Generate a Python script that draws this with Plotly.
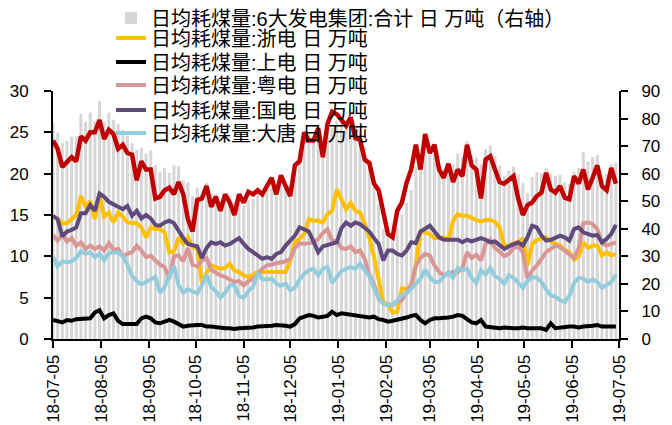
import pandas as pd
import plotly.graph_objects as go

# sampling: every 3 days from 2018-07-05
dates = pd.date_range("2018-07-05", periods=122, freq="3D")

huaneng = [24.0, 23.0, 20.8, 21.5, 22.0, 21.5, 24.5, 24.0, 25.0, 25.0,
           26.5, 24.2, 25.3, 24.8, 23.0, 23.5, 22.5, 22.3, 19.2, 21.5,
           20.5, 20.5, 17.0, 17.2, 18.0, 18.3, 17.5, 19.0, 17.5, 14.5,
           13.0, 16.8, 17.0, 18.5, 16.0, 17.2, 15.5, 17.5, 16.5, 15.0,
           17.5, 16.5, 17.8, 17.5, 18.0, 17.5, 18.5, 19.5, 17.5, 19.8,
           18.5, 17.3, 21.0, 21.5, 25.0, 24.0, 24.0, 25.5, 22.0, 26.0,
           27.5, 27.2, 26.5, 25.8, 26.8, 24.3, 24.1, 21.7, 21.3, 18.8,
           18.0, 15.0, 12.7, 12.3, 15.5, 16.5, 18.9, 20.5, 23.5, 20.5,
           24.8, 22.5, 23.5, 20.5, 19.5, 21.2, 19.0, 20.5, 19.7, 23.5,
           21.0, 20.5, 17.0, 21.7, 22.1, 20.5, 19.0, 18.8, 19.3, 19.7,
           17.0, 15.0, 16.2, 16.5, 17.3, 17.7, 20.1, 18.1, 17.7, 18.5,
           17.1, 16.9, 19.7, 18.8, 20.5, 18.1, 19.5, 21.0, 18.5, 18.0,
           20.7, 18.8]

zhedian = [14.8, 14.5, 14.0, 14.0, 14.5, 15.0, 17.3, 16.0, 16.7, 14.5,
           17.3, 14.8, 15.3, 14.1, 15.3, 14.8, 14.1, 14.1, 14.0, 13.5,
           12.3, 13.5, 13.3, 13.3, 12.9, 10.5, 10.6, 12.3, 11.5, 12.3,
           11.1, 11.0, 6.8, 8.0, 8.9, 8.7, 8.5, 8.6, 9.1, 8.3,
           8.1, 7.7, 7.5, 7.8, 8.1, 8.1, 8.1, 8.1, 8.1, 8.1,
           8.1, 9.5, 11.7, 12.1, 12.7, 14.5, 14.3, 14.3, 14.1, 15.1,
           15.5, 18.1, 17.0, 15.7, 16.5, 15.5, 15.3, 14.0, 12.2, 10.0,
           7.2, 4.5, 4.1, 3.2, 3.3, 6.1, 6.1, 6.5, 9.0, 13.0,
           12.9, 12.7, 12.2, 12.3, 12.3, 12.0, 14.3, 15.1, 14.9, 14.9,
           14.6, 14.4, 14.2, 14.4, 14.4, 14.2, 13.5, 11.3, 11.3, 11.6,
           11.7, 12.2, 8.9, 11.5, 12.0, 12.1, 12.3, 11.8, 11.5, 11.3,
           10.8, 10.5, 9.6, 10.0, 11.7, 11.0, 11.3, 11.3, 10.1, 10.5,
           10.1, 10.3]

shangdian = [2.3, 2.2, 2.0, 2.3, 2.2, 2.4, 2.4, 2.4, 2.5, 3.2,
             3.5, 2.5, 2.9, 3.1, 2.2, 1.8, 1.8, 1.7, 1.8, 2.5,
             2.7, 2.5, 2.0, 1.9, 2.1, 2.3, 2.1, 1.8, 1.5, 1.6,
             1.7, 1.7, 1.7, 1.5, 1.5, 1.4, 1.3, 1.3, 1.3, 1.2,
             1.3, 1.3, 1.3, 1.4, 1.5, 1.5, 1.6, 1.6, 1.7, 1.7,
             1.6, 1.5, 1.8, 2.5, 2.7, 2.9, 2.8, 2.6, 2.7, 2.8,
             3.3, 2.9, 3.1, 3.0, 2.9, 2.9, 2.7, 2.6, 2.6, 2.7,
             2.4, 2.3, 2.1, 2.2, 2.3, 2.5, 2.6, 2.8, 2.9, 2.3,
             1.9, 2.3, 2.5, 2.5, 2.5, 2.6, 2.7, 2.9, 2.8, 2.4,
             2.0, 1.9, 2.3, 1.5, 1.4, 1.3, 1.3, 1.4, 1.3, 1.3,
             1.3, 1.4, 1.3, 1.3, 1.4, 1.3, 1.1, 1.9, 1.3, 1.4,
             1.5, 1.5, 1.5, 1.4, 1.5, 1.5, 1.6, 1.7, 1.5, 1.5,
             1.5, 1.5]

yuedian = [12.6, 11.9, 12.6, 11.8, 12.2, 11.3, 11.7, 10.9, 11.3, 10.9,
           11.2, 10.7, 11.6, 10.8, 10.9, 10.0, 10.3, 10.5, 11.3, 10.7,
           9.9, 10.1, 9.5, 9.0, 8.7, 7.3, 10.0, 10.1, 9.4, 11.0,
           9.0, 8.8, 9.5, 9.8, 8.4, 8.0, 7.7, 7.5, 7.2, 6.9,
           7.0, 6.5, 7.0, 7.3, 7.8, 8.5, 8.9, 9.0, 9.1, 9.2,
           9.4, 9.7, 11.0, 11.6, 11.5, 11.6, 11.7, 12.1, 12.8, 13.3,
           11.9, 11.9, 11.0, 10.9, 11.2, 10.5, 10.7, 9.7, 7.8, 6.6,
           4.9, 4.3, 4.2, 4.1, 4.5, 4.7, 5.7, 6.5, 8.9, 9.8,
           10.3, 10.1, 8.9, 8.1, 7.7, 7.9, 8.1, 8.1, 8.6, 10.5,
           9.8, 10.2, 9.5, 11.5, 12.0, 11.0, 10.6, 10.0, 10.3, 11.0,
           11.2, 10.5, 7.3, 8.3, 8.9, 9.7, 10.5, 10.9, 11.3, 11.1,
           10.7, 10.3, 9.8, 11.0, 14.0, 14.1, 13.9, 13.3, 11.6, 11.3,
           11.5, 11.7]

guodian = [14.9, 14.5, 12.4, 13.0, 13.2, 13.5, 15.2, 15.2, 16.2, 15.5,
           17.6, 17.2, 16.6, 16.3, 16.0, 15.7, 16.1, 14.9, 15.5, 14.6,
           15.0, 14.6, 13.8, 13.7, 14.1, 14.3, 14.0, 13.0, 12.2, 11.5,
           11.3, 11.2, 9.8, 11.0, 11.7, 11.5, 11.7, 11.3, 11.5, 11.9,
           12.2, 11.5, 10.9, 10.5, 10.1, 9.7, 9.9, 9.7, 10.3, 10.5,
           11.3, 11.9, 12.5, 13.5, 13.3, 13.0, 11.8, 10.5, 11.2, 11.4,
           11.5, 11.7, 13.4, 14.1, 13.7, 14.1, 13.9, 13.5, 13.0, 12.2,
           11.5, 9.5, 10.7, 10.7, 10.3, 10.1, 10.7, 11.7, 11.6, 13.0,
           13.3, 13.7, 13.0, 12.3, 12.0, 12.0, 11.9, 12.0, 11.7, 12.0,
           11.8, 12.0, 12.2, 12.0, 11.7, 11.8, 11.3, 10.9, 11.2, 11.5,
           11.7, 11.3, 12.3, 13.7, 13.5, 12.5, 11.9, 12.0, 12.2, 12.5,
           12.3, 11.9, 13.3, 13.5, 12.9, 12.7, 12.5, 12.6, 11.7, 12.1,
           12.7, 13.8]

datang = [9.9, 8.8, 9.4, 9.3, 9.4, 9.8, 10.6, 10.3, 10.5, 9.9,
          10.3, 9.5, 10.4, 10.5, 10.5, 10.0, 9.0, 7.6, 7.0, 6.6,
          6.9, 7.2, 7.5, 5.6, 6.3, 7.6, 8.8, 6.5, 5.6, 6.0,
          5.8, 5.5, 6.5, 7.8, 6.3, 5.8, 5.0, 5.6, 6.5, 6.5,
          5.2, 5.0, 5.8, 6.3, 8.0, 7.2, 7.2, 7.3, 6.7, 6.4,
          6.7, 5.9, 6.2, 7.2, 7.9, 8.3, 8.5, 7.7, 8.5, 8.7,
          6.8, 7.5, 8.2, 8.5, 8.7, 8.5, 9.1, 8.3, 7.6, 6.1,
          5.0, 4.3, 4.1, 4.2, 4.6, 5.3, 5.5, 6.1, 6.7, 7.3,
          8.4, 7.5, 6.9, 6.9, 7.5, 8.1, 7.4, 8.6, 8.3, 8.5,
          7.4, 6.8, 8.3, 7.8, 8.6, 7.6, 7.3, 6.7, 7.7, 7.4,
          6.8, 6.2, 7.0, 7.5, 7.4, 6.9, 6.0, 5.3, 5.1, 4.7,
          4.5, 5.2, 6.8, 7.4, 7.3, 6.9, 7.2, 6.9, 6.2, 6.6,
          6.9, 7.8]

# 合计 = sum of the six groups
total = [round(a + b + c + d + e + f, 1) for a, b, c, d, e, f in
         zip(huaneng, zhedian, shangdian, yuedian, guodian, datang)]

tick_dates = ["2018-07-05", "2018-08-05", "2018-09-05", "2018-10-05", "2018-11-05",
              "2018-12-05", "2019-01-05", "2019-02-05", "2019-03-05", "2019-04-05",
              "2019-05-05", "2019-06-05", "2019-07-05"]
tick_labels = ["18-07-05", "18-08-05", "18-09-05", "18-10-05", "18-11-05",
               "18-12-05", "19-01-05", "19-02-05", "19-03-05", "19-04-05",
               "19-05-05", "19-06-05", "19-07-05"]

fig = go.Figure()
# bars on the base (right-hand) axis so the lines, on the overlaying left axis, draw above them
fig.add_trace(go.Bar(x=dates, y=total, yaxis="y", legend="legend",
                     marker=dict(color="#d6d6d6", line=dict(width=0)),
                     name="日均耗煤量:6大发电集团:合计 日 万吨（右轴）"))
line_specs = [
    (zhedian, "#FFC000", "日均耗煤量:浙电 日 万吨", "legend2"),
    (shangdian, "#000000", "日均耗煤量:上电 日 万吨", "legend3"),
    (yuedian, "#D99694", "日均耗煤量:粤电 日 万吨", "legend4"),
    (guodian, "#604A7B", "日均耗煤量:国电 日 万吨", "legend5"),
    (datang, "#93CDDD", "日均耗煤量:大唐 日 万吨", "legend6"),
    (huaneng, "#C00000", "日均耗煤量:华能 日 万吨", None),
]
for vals, col, nm, lg in line_specs:
    kw = dict(legend=lg, showlegend=True) if lg else dict(showlegend=False)
    fig.add_trace(go.Scatter(x=dates, y=vals, yaxis="y2", mode="lines", name=nm,
                             line=dict(color=col, width=4 if lg else 4.5), **kw))

tickfont = dict(family="Liberation Sans, Arial, sans-serif", size=17, color="black")
legfont = dict(family="Liberation Sans, Noto Sans CJK SC, sans-serif", size=20, color="black")
# one legend box per row, so each row sits where the reference has it
row_y = [1.2944, 1.2137, 1.1169, 1.0242, 0.9234, 0.8306]
legends = {}
for k, yy in enumerate(row_y):
    key = "legend" if k == 0 else "legend%d" % (k + 1)
    legends[key] = dict(x=0.1025, y=yy, xanchor="left", yanchor="middle",
                        bgcolor="rgba(0,0,0,0)", font=legfont)

# the page body has an 8px margin, so the figure is 8px smaller and offset
fig.update_layout(
    width=664, height=417,
    margin=dict(l=45, r=53, t=83, b=86, autoexpand=False),
    plot_bgcolor="white", paper_bgcolor="white",
    bargap=0.35,
    showlegend=True,
    xaxis=dict(type="date", range=["2018-07-05", "2019-07-05"], tickvals=tick_dates, ticktext=tick_labels,
               tickangle=-90, ticks="outside", ticklen=7, tickwidth=2, tickcolor="black",
               showline=True, linecolor="black", linewidth=2, showgrid=False, zeroline=False,
               tickfont=tickfont),
    yaxis=dict(range=[0, 90], dtick=10, side="right", ticks="outside", ticklen=7,
               tickwidth=2, tickcolor="black", showline=True, linecolor="black", linewidth=2,
               showgrid=False, zeroline=False, tickfont=tickfont, ticklabelstandoff=10),
    yaxis2=dict(range=[0, 30], dtick=5, side="left", overlaying="y", ticks="outside", ticklen=7,
                tickwidth=2, tickcolor="black", showline=True, linecolor="black", linewidth=2,
                showgrid=False, zeroline=False, tickfont=tickfont, ticklabelstandoff=12),
    **legends,
)
fig.write_html("out.html")
